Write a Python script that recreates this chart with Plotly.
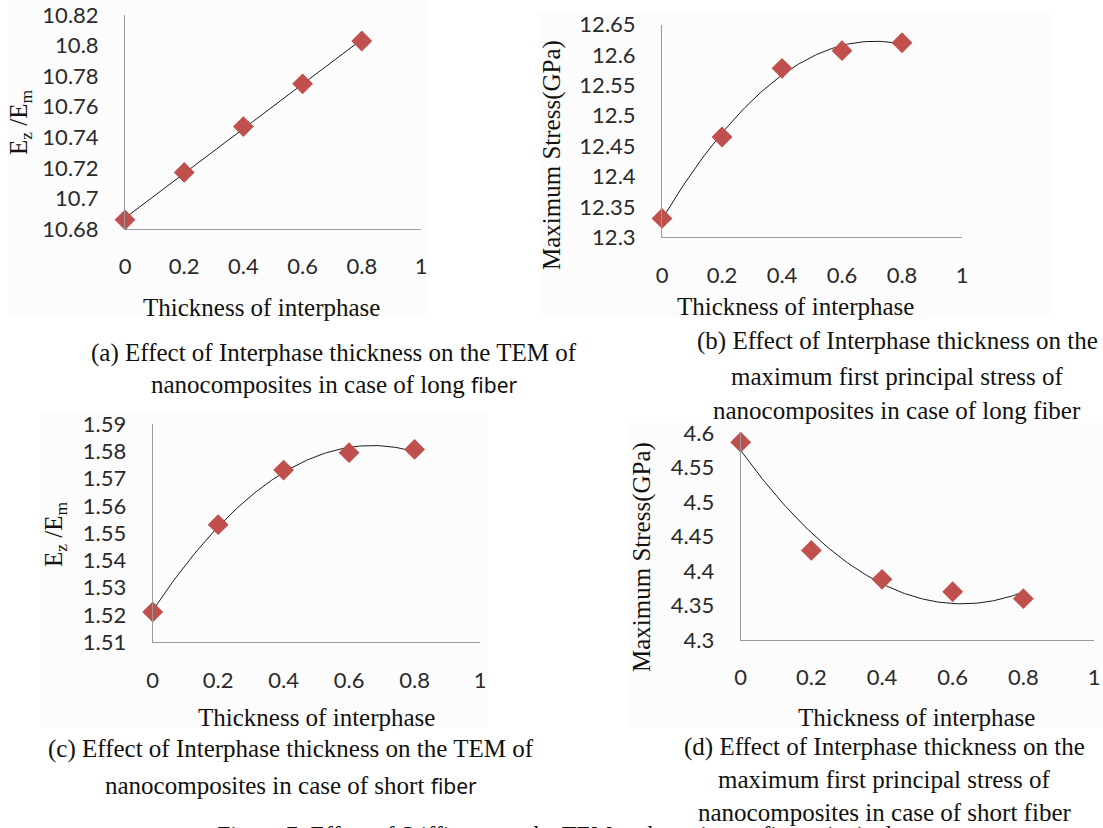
import numpy as np
import plotly.graph_objects as go

W, H = 1103, 828

# ---------------- data ----------------
thickness = [0, 0.2, 0.4, 0.6, 0.8]
tem_long = [10.686, 10.717, 10.747, 10.775, 10.803]
stress_long = [12.331, 12.465, 12.578, 12.607, 12.620]
tem_short = [1.5211, 1.5531, 1.5731, 1.5795, 1.5807]
stress_short = [4.587, 4.430, 4.388, 4.370, 4.360]

x_ticks = [0, 0.2, 0.4, 0.6, 0.8, 1]
x_tick_text = ["0", "0.2", "0.4", "0.6", "0.8", "1"]
y_ticks_a = [10.68, 10.70, 10.72, 10.74, 10.76, 10.78, 10.80, 10.82]
y_text_a = ["10.68", "10.7", "10.72", "10.74", "10.76", "10.78", "10.8", "10.82"]
y_ticks_b = [12.30, 12.35, 12.40, 12.45, 12.50, 12.55, 12.60, 12.65]
y_text_b = ["12.3", "12.35", "12.4", "12.45", "12.5", "12.55", "12.6", "12.65"]
y_ticks_c = [1.51, 1.52, 1.53, 1.54, 1.55, 1.56, 1.57, 1.58, 1.59]
y_text_c = ["1.51", "1.52", "1.53", "1.54", "1.55", "1.56", "1.57", "1.58", "1.59"]
y_ticks_d = [4.30, 4.35, 4.40, 4.45, 4.50, 4.55, 4.60]
y_text_d = ["4.3", "4.35", "4.4", "4.45", "4.5", "4.55", "4.6"]

x_title = "Thickness of interphase"
ratio_title = "E<sub>z</sub> /E<sub>m</sub>"
stress_title = "Maximum Stress(GPa)"

FIBER = '<span style="font-family:Noto Sans;font-size:21px">fiber</span>'
captions_a = ["(a) Effect of Interphase thickness on the TEM of",
              "nanocomposites in case of long " + FIBER]
captions_b = ["(b) Effect of Interphase thickness on the",
              "maximum first principal stress of",
              "nanocomposites in case of long fiber"]
captions_c = ["(c) Effect of Interphase thickness on the TEM of",
              "nanocomposites in case of short " + FIBER]
captions_d = ["(d) Effect of Interphase thickness on the",
              "maximum first principal stress of",
              "nanocomposites in case of short fiber"]
figure_caption = "Figure 7: Effect of Stiffiness on the TEM and maximum first principal stress"

# ---------------- layout helpers ----------------
def fx(px):
    return px / W

def fy(py):
    return 1 - py / H

SERIF = "Liberation Serif"
TICKFONT = dict(family="Lato", size=22, color="#2a2a2a")
MARKER_COLOR = "#c0504d"
AXIS_COLOR = "#9a9a9a"

panels = [
    dict(y=tem_long, yt=y_ticks_a, ytt=y_text_a, yr=[10.68, 10.82], xd=(125, 421), yd=(15, 229), order=1,
         ytitle=ratio_title, ytitle_pos=(21, 122), xtitle_pos=(261, 307), bg=(8, 0, 426, 318)),
    dict(y=stress_long, yt=y_ticks_b, ytt=y_text_b, yr=[12.3, 12.65], xd=(662, 962), yd=(24.5, 237.3), order=2,
         ytitle=stress_title, ytitle_pos=(552, 155), xtitle_pos=(795, 306), bg=(538, 13, 1050, 318)),
    dict(y=tem_short, yt=y_ticks_c, ytt=y_text_c, yr=[1.51, 1.59], xd=(152.7, 480), yd=(424, 642.3), order=2,
         ytitle=ratio_title, ytitle_pos=(55, 534), xtitle_pos=(316, 717), bg=(40, 413, 487, 728)),
    dict(y=stress_short, yt=y_ticks_d, ytt=y_text_d, yr=[4.3, 4.6], xd=(740.7, 1094), yd=(433.3, 640), order=2,
         ytitle=stress_title, ytitle_pos=(642, 557), xtitle_pos=(916, 717), bg=(628, 423, 1103, 728)),
]

fig = go.Figure()
annotations = []
shapes = []

for i, p in enumerate(panels, start=1):
    xa = "x" if i == 1 else f"x{i}"
    ya = "y" if i == 1 else f"y{i}"
    # trendline (least-squares fit of the plotted data, like the spreadsheet trendline)
    coef = np.polyfit(thickness, p["y"], p["order"])
    xs = np.linspace(thickness[0], thickness[-1], 120)
    fig.add_trace(go.Scatter(x=xs, y=np.polyval(coef, xs), mode="lines",
                             line=dict(color="#1a1a1a", width=1), xaxis=xa, yaxis=ya,
                             showlegend=False, hoverinfo="skip", cliponaxis=False))
    fig.add_trace(go.Scatter(x=thickness, y=p["y"], mode="markers",
                             marker=dict(symbol="diamond", size=16, color=MARKER_COLOR,
                                         line=dict(width=0)),
                             xaxis=xa, yaxis=ya, showlegend=False, cliponaxis=False))

    xkey = "xaxis" if i == 1 else f"xaxis{i}"
    ykey = "yaxis" if i == 1 else f"yaxis{i}"
    fig.update_layout(**{
        xkey: dict(domain=[fx(p["xd"][0]), fx(p["xd"][1])], range=[0, 1], anchor=ya,
                   tickmode="array", tickvals=x_ticks, ticktext=x_tick_text,
                   showgrid=False, zeroline=False, showline=True, linecolor=AXIS_COLOR,
                   linewidth=1, ticks="", tickfont=TICKFONT, ticklabelstandoff=18,
                   fixedrange=True, automargin=False),
        ykey: dict(domain=[fy(p["yd"][1]), fy(p["yd"][0])], range=p["yr"], anchor=xa,
                   tickmode="array", tickvals=p["yt"], ticktext=p["ytt"],
                   showgrid=False, zeroline=False, showline=True, linecolor=AXIS_COLOR,
                   linewidth=1, ticks="", tickfont=TICKFONT, ticklabelstandoff=21,
                   fixedrange=True, automargin=False),
    })

    annotations.append(dict(text=p["ytitle"], x=fx(p["ytitle_pos"][0]), y=fy(p["ytitle_pos"][1]),
                            xref="paper", yref="paper", showarrow=False, textangle=-90,
                            xanchor="center", yanchor="middle",
                            font=dict(family=SERIF, size=25, color="#111")))
    annotations.append(dict(text=x_title, x=fx(p["xtitle_pos"][0]), y=fy(p["xtitle_pos"][1]),
                            xref="paper", yref="paper", showarrow=False,
                            xanchor="center", yanchor="middle",
                            font=dict(family=SERIF, size=25, color="#111")))
    bx0, by0, bx1, by1 = p["bg"]
    shapes.append(dict(type="rect", xref="paper", yref="paper", layer="below",
                       x0=fx(bx0), x1=fx(bx1), y0=fy(by1), y1=fy(by0),
                       fillcolor="#fcfcfc", line=dict(width=0)))

caption_blocks = [
    (captions_a, 334, [353, 385]),
    (captions_b, 897, [341, 376, 410]),
    (captions_c, 291, [749, 786]),
    (captions_d, 884, [747, 779, 812]),
]
for lines, cx, ys in caption_blocks:
    for line, cy in zip(lines, ys):
        annotations.append(dict(text=line, x=fx(cx), y=fy(cy), xref="paper", yref="paper",
                                showarrow=False, xanchor="center", yanchor="middle",
                                font=dict(family=SERIF, size=25, color="#111")))

annotations.append(dict(text=figure_caption, x=fx(584), y=fy(819), xref="paper", yref="paper",
                        showarrow=False, xanchor="center", yanchor="top",
                        font=dict(family=SERIF, size=24, color="#111")))

fig.update_layout(width=W, height=H,
                  margin=dict(l=0, r=0, t=0, b=0, pad=0, autoexpand=False),
                  paper_bgcolor="white", plot_bgcolor="rgba(0,0,0,0)",
                  annotations=annotations, shapes=shapes, showlegend=False)

fig.write_html("out.html", config={"displayModeBar": False},
               post_script="document.body.style.margin='0px';document.body.style.overflow='hidden';")
